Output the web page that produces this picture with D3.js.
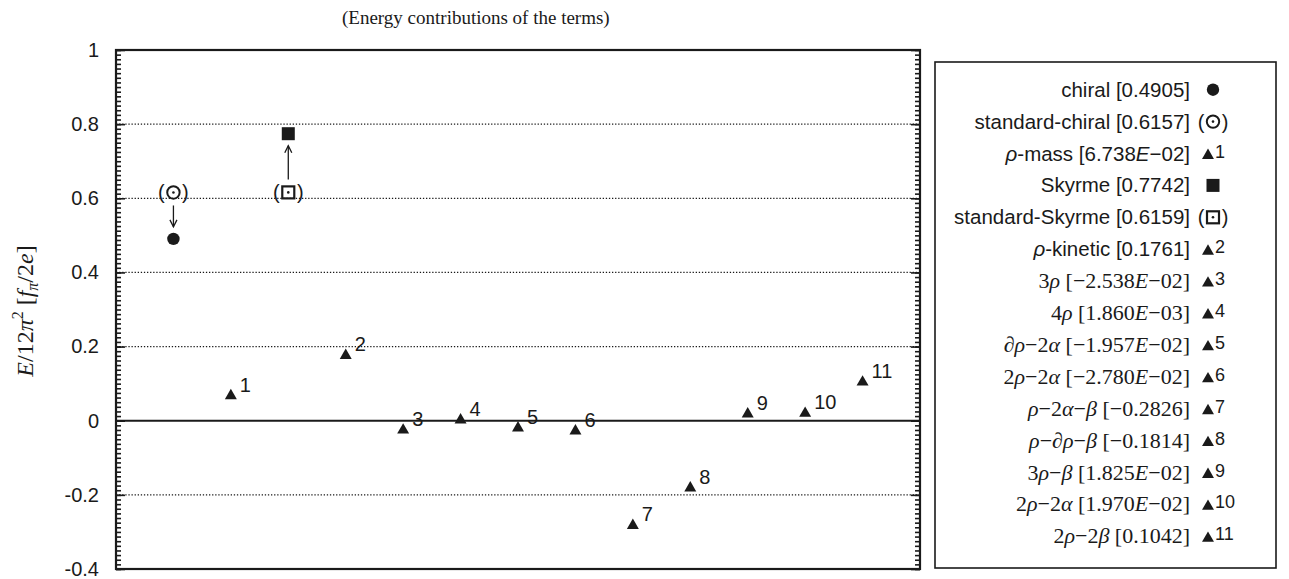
<!DOCTYPE html>
<html>
<head>
<meta charset="utf-8">
<script src="https://cdn.jsdelivr.net/npm/d3@7"></script>
<style>
  body { margin: 0; background: #fff; }
  svg { display: block; }
</style>
</head>
<body>
<svg id="chart" width="1289" height="579"></svg>
<script>
// Energy contribution of each term of the Lagrangian (units of 12π² fπ/2e)
const termNames = ["chiral", "standard-chiral", "ρ-mass", "Skyrme", "standard-Skyrme",
  "ρ-kinetic", "3ρ", "4ρ", "∂ρ−2α", "2ρ−2α", "ρ−2α−β", "ρ−∂ρ−β", "3ρ−β", "2ρ−2α", "2ρ−2β"];
const termValues = [0.4905, 0.6157, 6.738e-2, 0.7742, 0.6159,
  0.1761, -2.538e-2, 1.860e-3, -1.957e-2, -2.780e-2, -0.2826, -0.1814, 1.825e-2, 1.970e-2, 0.1042];
const termMarkers = ["dot", "odot", "tri", "square", "sqdot",
  "tri", "tri", "tri", "tri", "tri", "tri", "tri", "tri", "tri", "tri"];
// slot on the horizontal axis (the standard terms share the slot of their counterpart)
const termSlots = [0, 0, 1, 2, 2, 3, 4, 5, 6, 7, 8, 9, 10, 11, 12];
const termTags = ["", "", "1", "", "", "2", "3", "4", "5", "6", "7", "8", "9", "10", "11"];

const yTickValues = [1, 0.8, 0.6, 0.4, 0.2, 0, -0.2, -0.4];
const yTickLabels = ["1", "0.8", "0.6", "0.4", "0.2", "0", "-0.2", "-0.4"];
const gridValues = [0.8, 0.6, 0.4, 0.2, -0.2];
const titleText = "(Energy contributions of the terms)";

const SANS = "'Liberation Sans', Arial, Helvetica, sans-serif";
const SERIF = "'Liberation Serif', 'Times New Roman', serif";
const INK = "#1a1a1a";

const svg = d3.select("#chart");
const frame = { left: 116, right: 920, top: 50, bottom: 569 };
const x = d3.scaleLinear().domain([-1, 13]).range([frame.left, frame.right]);
const y = d3.scaleLinear().domain([-0.4, 1]).range([frame.bottom, frame.top]);

// title
svg.append("text")
  .attr("x", 342).attr("y", 24)
  .attr("font-family", SERIF).attr("font-size", 19)
  .attr("fill", INK)
  .text(titleText);

// dotted grid and the solid zero line
svg.append("g").selectAll("line").data(gridValues).join("line")
  .attr("x1", frame.left).attr("x2", frame.right)
  .attr("y1", d => y(d)).attr("y2", d => y(d))
  .attr("stroke", INK).attr("stroke-width", 1.3)
  .attr("stroke-dasharray", "1.3,1.8");
svg.append("line")
  .attr("x1", frame.left).attr("x2", frame.right)
  .attr("y1", y(0)).attr("y2", y(0))
  .attr("stroke", INK).attr("stroke-width", 2);

// inward minor and major ticks on both vertical sides
const minorValues = d3.range(0, 113).map(i => -0.4 + i * 0.0125);
function styleAxis(g) {
  g.select(".domain").remove();
  g.selectAll(".tick line").attr("stroke", INK).attr("stroke-width", 1.6);
}
svg.append("g").attr("transform", `translate(${frame.left},0)`)
  .call(d3.axisLeft(y).tickValues(minorValues).tickSize(-5).tickFormat(""))
  .call(styleAxis);
svg.append("g").attr("transform", `translate(${frame.right},0)`)
  .call(d3.axisRight(y).tickValues(minorValues).tickSize(-5).tickFormat(""))
  .call(styleAxis);
svg.append("g").attr("transform", `translate(${frame.right},0)`)
  .call(d3.axisRight(y).tickValues(yTickValues).tickSize(-9).tickFormat(""))
  .call(styleAxis);
const leftAxis = svg.append("g").attr("transform", `translate(${frame.left},0)`)
  .call(d3.axisLeft(y).tickValues(yTickValues).tickSize(-9).tickPadding(17)
    .tickFormat((d, i) => yTickLabels[i]))
  .call(styleAxis);
leftAxis.selectAll(".tick text")
  .attr("font-family", SANS).attr("font-size", 20).attr("fill", INK);

// plot frame
svg.append("rect")
  .attr("x", frame.left).attr("y", frame.top)
  .attr("width", frame.right - frame.left).attr("height", frame.bottom - frame.top)
  .attr("fill", "none").attr("stroke", INK).attr("stroke-width", 2.2);

// y-axis title
const yTitle = svg.append("text")
  .attr("transform", "translate(33,311) rotate(-90)")
  .attr("text-anchor", "middle")
  .attr("font-family", SERIF).attr("font-size", 24).attr("fill", INK);
[["E", "i"], ["/12", ""], ["π", "i"], ["2", "sup"], [" [", ""], ["f", "i"], ["π", "sub"],
 ["/2", ""], ["e", "i"], ["]", ""]].forEach(([t, k], idx, arr) => {
  const ts = yTitle.append("tspan").text(t);
  if (k === "i") ts.attr("font-style", "italic");
  if (k === "sup") ts.attr("font-size", 16).attr("dy", -10);
  if (k === "sub") ts.attr("font-size", 16).attr("font-style", "italic").attr("dy", 5);
  const prev = idx > 0 ? arr[idx - 1][1] : "";
  if (prev === "sup" && k !== "sup") ts.attr("dy", 10);
  if (prev === "sub" && k !== "sub") ts.attr("dy", -5);
});

// marker drawing shared by plot and legend
const triPath = d3.symbol(d3.symbolTriangle, 62)();
function drawMarker(g, kind, cx, cy) {
  if (kind === "dot") {
    g.append("circle").attr("cx", cx).attr("cy", cy).attr("r", 6.2).attr("fill", INK);
  } else if (kind === "square") {
    g.append("rect").attr("x", cx - 6.5).attr("y", cy - 6.5).attr("width", 13).attr("height", 13).attr("fill", INK);
  } else if (kind === "tri") {
    g.append("path").attr("d", triPath).attr("transform", `translate(${cx},${cy})`).attr("fill", INK);
  } else {
    if (kind === "odot") {
      g.append("circle").attr("cx", cx).attr("cy", cy).attr("r", 6.2)
        .attr("fill", "none").attr("stroke", INK).attr("stroke-width", 2);
    } else {
      g.append("rect").attr("x", cx - 6).attr("y", cy - 6).attr("width", 12).attr("height", 12)
        .attr("fill", "none").attr("stroke", INK).attr("stroke-width", 2.2);
    }
    g.append("circle").attr("cx", cx).attr("cy", cy).attr("r", 1.3).attr("fill", INK);
    g.append("text").attr("x", cx - 12).attr("y", cy + 7).attr("text-anchor", "middle")
      .attr("font-family", SANS).attr("font-size", 20).attr("fill", INK).text("(");
    g.append("text").attr("x", cx + 12).attr("y", cy + 7).attr("text-anchor", "middle")
      .attr("font-family", SANS).attr("font-size", 20).attr("fill", INK).text(")");
  }
}

// data marks
const marks = svg.append("g");
termValues.forEach((v, i) => drawMarker(marks, termMarkers[i], x(termSlots[i]), y(v)));

// numbered labels next to the triangles
marks.selectAll("text.tag").data(termValues.map((v, i) => i).filter(i => termTags[i]))
  .join("text").attr("class", "tag")
  .attr("x", i => x(termSlots[i]) + 9).attr("y", i => y(termValues[i]) - 4)
  .attr("font-family", SANS).attr("font-size", 20).attr("fill", INK)
  .text(i => termTags[i]);

// arrows from the standard terms to the corresponding full terms
termMarkers.forEach((m, i) => {
  if (m !== "odot" && m !== "sqdot") return;
  const j = termSlots.findIndex((s, k) => s === termSlots[i] && k !== i);
  const cx = x(termSlots[i]);
  const y0 = y(termValues[i]), y1 = y(termValues[j]);
  const dir = Math.sign(y1 - y0);
  const ys = y0 + dir * 13, ye = y1 - dir * 12;
  marks.append("line").attr("x1", cx).attr("x2", cx).attr("y1", ys).attr("y2", ye)
    .attr("stroke", INK).attr("stroke-width", 1.3);
  marks.append("path")
    .attr("d", `M${cx - 3.5},${ye - dir * 7} L${cx},${ye} L${cx + 3.5},${ye - dir * 7}`)
    .attr("fill", "none").attr("stroke", INK).attr("stroke-width", 1.3);
});

// legend
const legend = svg.append("g");
legend.append("rect").attr("x", 935).attr("y", 62).attr("width", 341).attr("height", 506)
  .attr("fill", "#fff").attr("stroke", INK).attr("stroke-width", 1.6);

function fmtValue(v) {
  if (Math.abs(v) >= 0.1) return [[v.toFixed(4).replace("-", "−"), false]];
  const [m, e] = v.toExponential(3).split("e");
  const ex = parseInt(e, 10);
  const expStr = (ex < 0 ? "−" : "") + String(Math.abs(ex)).padStart(2, "0");
  return [[m.replace("-", "−"), false], ["E", true], [expStr, false]];
}
const greek = "ραβπ";
const sansRows = 6;
const textRight = 1190, symbolX = 1213, rowTop = 96.7, rowStep = 31.9;
termNames.forEach((name, i) => {
  const base = rowTop + i * rowStep;
  const isSans = i < sansRows;
  const t = legend.append("text")
    .attr("x", textRight).attr("y", base).attr("text-anchor", "end")
    .attr("font-family", isSans ? SANS : SERIF).attr("font-size", isSans ? 20.5 : 22)
    .attr("fill", INK);
  const parts = [];
  for (const ch of name) parts.push([ch, greek.includes(ch)]);
  parts.push([" [", false], ...fmtValue(termValues[i]), ["]", false]);
  parts.forEach(([s, it]) => {
    const ts = t.append("tspan").text(s);
    if (it) ts.attr("font-style", "italic");
  });
  const kind = termMarkers[i];
  if (kind === "tri") {
    drawMarker(legend, kind, 1208, base - 5);
    legend.append("text").attr("x", 1215).attr("y", base - 3)
      .attr("font-family", SANS).attr("font-size", 18).attr("fill", INK).text(termTags[i]);
  } else {
    drawMarker(legend, kind, symbolX, base - 7);
  }
});
</script>
</body>
</html>
